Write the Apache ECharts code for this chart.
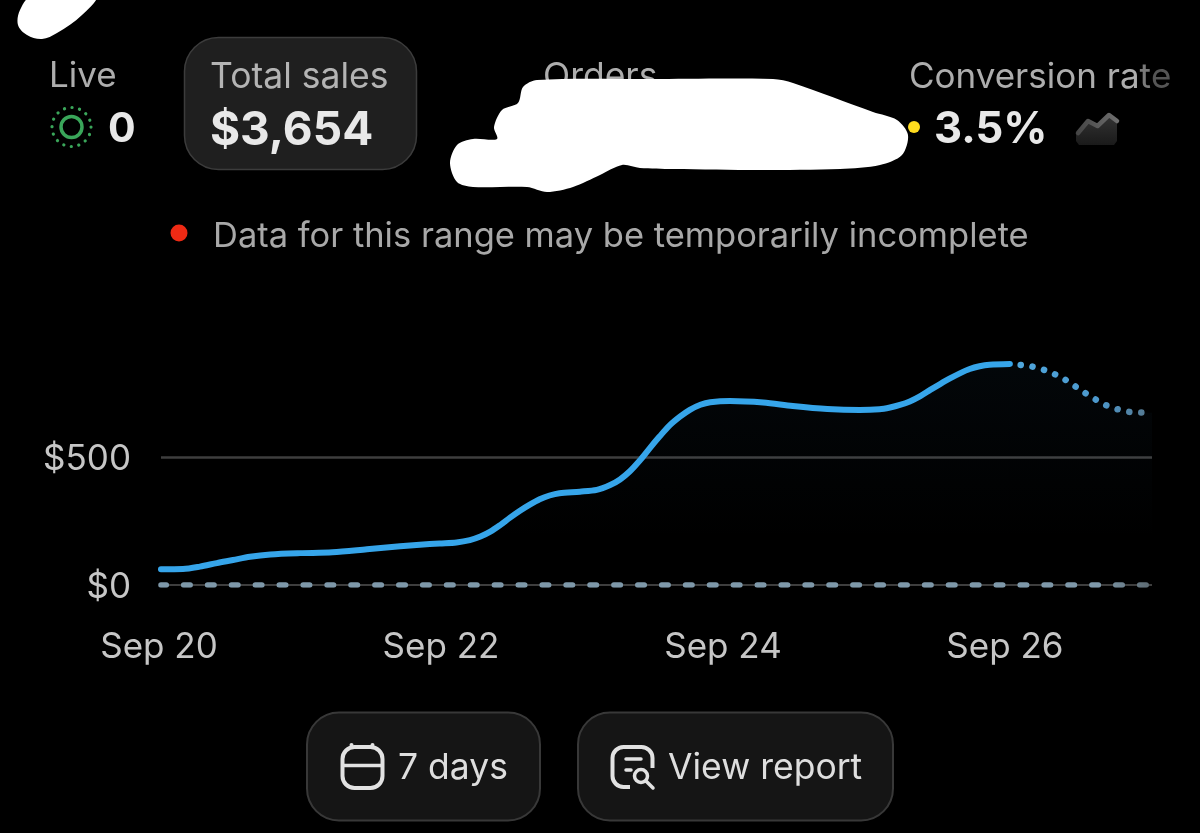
<!DOCTYPE html>
<html>
<head>
<meta charset="utf-8">
<style>html,body{margin:0;padding:0;background:#000}#c{width:1200px;height:833px}</style>
<script src="https://cdn.jsdelivr.net/npm/echarts@6/dist/echarts.min.js"></script>
</head>
<body>
<div id="c"></div>
<script>
// Chart values (x = days since Sep 20, y = dollars)
const actualDays = [0.014,0.17,0.29,0.41,0.525,0.645,0.79,1.0,1.23,1.475,1.71,1.85,1.99,2.11,2.205,2.28,2.35,2.42,2.49,2.56,2.63,2.70,2.77,2.84,2.985,3.105,3.2,3.27,3.34,3.41,3.48,3.55,3.62,3.695,3.765,3.84,3.91,4.05,4.285,4.495,4.74,4.97,5.11,5.185,5.255,5.325,5.40,5.47,5.54,5.61,5.68,5.75,5.82,5.89,6.035];
const actualSales = [61.6,62.5,72,86,98,111,120,125,128,140,152,158,163,167,176,190,209,235,264,291,315,336,351,360,366,373,392,414,446,488,536,582,625,660,687,707,717,722,716,702,690,686,689,696,706,720,741,765,788,810,830,847,858,864,867];
const projectedDays = [6.035,6.11,6.197,6.28,6.36,6.44,6.51,6.58,6.655,6.73,6.815,6.90,6.985,7.043];
const projectedSales = [867,863,856,843,825,801,775,749,724,702,687,678,676,675];
const dayTicks = [0,2,4,6];
const dayLabels = ['Sep 20','Sep 22','Sep 24','Sep 26'];
const dollarTicks = [0,500];
const dollarLabels = ['$0','$500'];
const spanDays = [0.014,7.043];
const liveLabel='Live', liveValue='0', salesLabel='Total sales', salesValue='$3,654', ordersLabel='Orders', convValue='3.5%';
const convParts=['Conversion ra','t','e'];
const notice='Data for this range may be temporarily incomplete', rangeBtn='7 days', reportBtn='View report';

const font='Inter';
const zip=(a,b)=>a.map((v,i)=>[v,b[i]]);
const span=v=>spanDays.map(d=>[d,v]);
const txt=(x,y,text,size,weight,fill,align)=>({type:'text',x,y,z:5,style:{text,fontFamily:font,fontSize:size,fontWeight:weight,fill,align:align||'left',verticalAlign:'middle'}});
const areaFill={type:'linear',global:true,x:0,y:364,x2:0,y2:540,colorStops:[{offset:0,color:'rgba(60,130,190,0.07)'},{offset:1,color:'rgba(60,130,190,0)'}]};

const graphic=[
 // pill + buttons
 {type:'rect',z:1,shape:{x:184.5,y:37.5,width:232,height:132,r:34},style:{fill:'#1f1f1f',stroke:'#3c3c3c',lineWidth:1.5}},
 {type:'rect',z:1,shape:{x:307,y:712.5,width:233,height:108,r:32},style:{fill:'#151515',stroke:'#383838',lineWidth:2}},
 {type:'rect',z:1,shape:{x:578,y:712.5,width:315,height:108,r:32},style:{fill:'#151515',stroke:'#383838',lineWidth:2}},
 // texts
 txt(49,76,liveLabel,35,400,'#adadad'),
 txt(108,130,liveValue,41,700,'#e8e8e8'),
 txt(210,77,salesLabel,35.5,400,'#b4b4b4'),
 txt(210,131,salesValue,46,700,'#e8e8e8'),
 txt(543,77,ordersLabel,35.5,400,'#adadad'),
 {type:'text',x:909,y:77,z:5,style:{text:'{a|'+convParts[0]+'}{b|'+convParts[1]+'}{c|'+convParts[2]+'}',fontFamily:font,fontSize:35,verticalAlign:'middle',align:'left',
   rich:{a:{fontFamily:font,fontSize:35,fill:'#adadad'},b:{fontFamily:font,fontSize:35,fill:'#7a7a7a'},c:{fontFamily:font,fontSize:35,fill:'#555555'}}}},
 txt(934,130,convValue,43.5,700,'#e8e8e8'),
 txt(213,237,notice,34.5,400,'#a8a8a8'),
 txt(398,768,rangeBtn,35.5,400,'#dedede'),
 txt(668,768,reportBtn,35.5,400,'#dedede'),
 // live indicator
 {type:'circle',z:5,shape:{cx:71.5,cy:127,r:10.5},style:{fill:'none',stroke:'#3aa65a',lineWidth:3.5}},
 {type:'circle',z:5,shape:{cx:71.5,cy:127,r:19.5},style:{fill:'none',stroke:'#3aa65a',lineWidth:3.2,lineCap:'round',lineDash:[0.1,7.55]}},
 // status dots
 {type:'circle',z:5,shape:{cx:179,cy:233,r:8.5},style:{fill:'#ee2a14'}},
 {type:'circle',z:5,shape:{cx:914,cy:127,r:6},style:{fill:'#ffdc1e'}},
 // sparkline icon
 {type:'polygon',z:4,shape:{points:[[1076,134],[1088,122],[1097.5,127],[1109,116],[1117,122],[1117,141],[1114,145],[1079,145],[1076,141]]},style:{fill:{type:'linear',x:0,y:0,x2:0,y2:1,colorStops:[{offset:0,color:'#333333'},{offset:1,color:'#1a1a1a'}]}}},
 {type:'polyline',z:5,shape:{points:[[1078,133],[1088,121],[1097.5,126],[1109,115],[1117,121]]},style:{fill:'none',stroke:{type:'linear',x:0,y:0,x2:1,y2:0,colorStops:[{offset:0,color:'#444'},{offset:1,color:'#707070'}]},lineWidth:4.5,lineCap:'round',lineJoin:'round'}},
 // calendar icon
 {type:'rect',z:5,shape:{x:342.5,y:747,width:40,height:41,r:12},style:{fill:'none',stroke:'#e2e2e2',lineWidth:4}},
 {type:'line',z:5,shape:{x1:343,y1:765.5,x2:382,y2:765.5},style:{stroke:'#e2e2e2',lineWidth:3.5}},
 {type:'circle',z:5,shape:{cx:351.5,cy:745,r:2},style:{fill:'#e2e2e2'}},
 {type:'circle',z:5,shape:{cx:372.5,cy:745,r:2},style:{fill:'#e2e2e2'}},
 // report icon
 {type:'rect',z:5,shape:{x:612.5,y:747,width:40,height:40,r:11},style:{fill:'none',stroke:'#e2e2e2',lineWidth:4}},
 {type:'rect',z:6,shape:{x:630,y:768,width:27,height:22},style:{fill:'#151515'}},
 {type:'line',z:7,shape:{x1:626,y1:759,x2:641,y2:759},style:{stroke:'#e2e2e2',lineWidth:3.5,lineCap:'round'}},
 {type:'line',z:7,shape:{x1:626,y1:770,x2:631,y2:770},style:{stroke:'#e2e2e2',lineWidth:3.5,lineCap:'round'}},
 {type:'circle',z:7,shape:{cx:641,cy:776,r:6.5},style:{fill:'none',stroke:'#e2e2e2',lineWidth:3.5}},
 {type:'line',z:7,shape:{x1:646,y1:781,x2:653,y2:788},style:{stroke:'#e2e2e2',lineWidth:3.5,lineCap:'round'}},
 // redaction scribbles
 {type:'polygon',z:10,shape:{smooth:0.35,points:[[18,25],[20,10],[32,-4],[96,-4],[82,15],[57,33],[42,39],[27,35]]},style:{fill:'#fff'}},
 {type:'polygon',z:10,shape:{smooth:0.3,points:[[518,103],[523,87],[537,80],[650,79],[773,79],[793,83],[873,112],[897,120],[908,135],[902,155],[880,165],[840,169],[760,170],[673,169],[640,168],[622,165],[600,175],[573,187],[547,192],[527,187],[473,187],[457,182],[450,163],[457,145],[473,139],[497,139],[494,127],[502,110]]},style:{fill:'#fff'}}
];

const chart=echarts.init(document.getElementById('c'),null,{renderer:'canvas'});
chart.setOption({
 animation:false,
 backgroundColor:'#000',
 grid:{left:159,right:48,top:330,bottom:248,containLabel:false},
 xAxis:{type:'value',min:0,max:7.043,axisLine:{show:false},axisTick:{show:false},splitLine:{show:false},
   axisLabel:{customValues:dayTicks,margin:45,color:'#c6c6c6',fontFamily:font,fontSize:35,formatter:v=>dayLabels[dayTicks.indexOf(v)]}},
 yAxis:{type:'value',min:0,max:1000,interval:500,axisLine:{show:false},axisTick:{show:false},splitLine:{show:false},
   axisLabel:{customValues:dollarTicks,margin:28,color:'#c6c6c6',fontFamily:font,fontSize:35,formatter:v=>'{v|'+dollarLabels[dollarTicks.indexOf(v)]+'}',
     rich:{v:{color:'#c6c6c6',fontFamily:font,fontSize:35,padding:[4,0,0,0]}}}},
 series:[
  {name:'grid500',type:'line',silent:true,symbol:'none',z:1,data:span(500),lineStyle:{color:'#3e3e3e',width:2.5}},
  {name:'grid0',type:'line',silent:true,symbol:'none',z:1,data:span(0),lineStyle:{color:'#3e3e3e',width:2}},
  {name:'comparison',type:'line',silent:true,symbol:'none',z:2,data:span(0),lineStyle:{width:5.5,cap:'round',type:[6.5,17.4],dashOffset:1.2,
     color:{type:'linear',global:true,x:1100,y:0,x2:1152,y2:0,colorStops:[{offset:0,color:'#7e98a9'},{offset:1,color:'#5b6870'}]}}},
  {name:'Sales',type:'line',smooth:0.3,symbol:'none',z:4,data:zip(actualDays,actualSales),lineStyle:{color:'#36a5ea',width:6,cap:'round',join:'round'},areaStyle:{color:areaFill}},
  {name:'Projected',type:'line',smooth:0.5,symbol:'none',z:3,data:zip(projectedDays,projectedSales),
     lineStyle:{width:6.5,cap:'round',type:[0.1,11.9],dashOffset:1.2,
       color:{type:'linear',global:true,x:1020,y:0,x2:1150,y2:0,colorStops:[{offset:0,color:'#4fa6dc'},{offset:0.6,color:'#4c98cc'},{offset:1,color:'#56788f'}]}},
     areaStyle:{color:areaFill}}
 ],
 graphic:{elements:graphic}
});
</script>
</body>
</html>
